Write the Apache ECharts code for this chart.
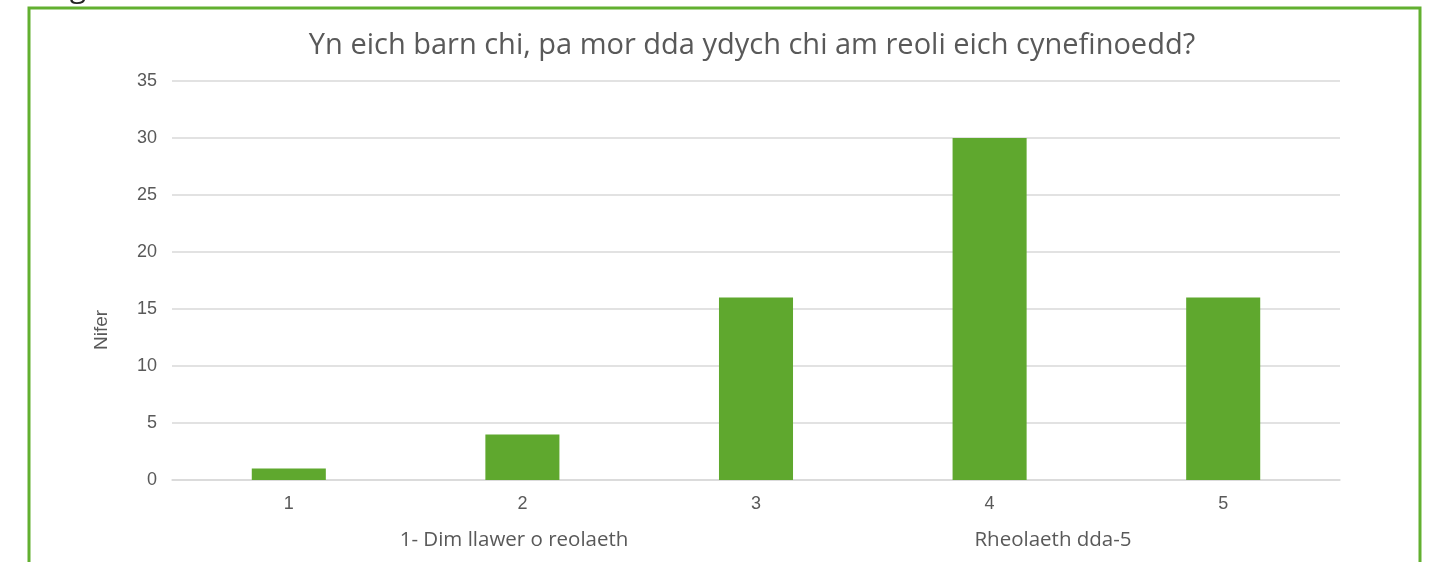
<!DOCTYPE html>
<html lang="cy">
<head>
    <meta charset="UTF-8">
    <title>Nifer</title>
    <script src="https://cdn.jsdelivr.net/npm/echarts@6/dist/echarts.min.js"></script>
    <style>
        html, body { margin: 0; padding: 0; background: #fff; }
    </style>
</head>
<body>
    <div id="main" style="width:1433px; height:562px;"></div>
    <script>
        var categories = ['1', '2', '3', '4', '5'];
        var counts = [1, 4, 16, 30, 16];
        var yTicks = { min: 0, max: 35, interval: 5 };

        var chart = echarts.init(document.getElementById('main'));
        var option = {
            animation: false,
            title: {
                text: 'Yn eich barn chi, pa mor dda ydych chi am reoli eich cynefinoedd?',
                left: 747,
                textAlign: 'center',
                top: 26,
                textStyle: {
                    fontFamily: 'Open Sans',
                    fontWeight: 'normal',
                    fontSize: 29,
                    color: '#595959'
                }
            },
            grid: { left: 172, right: 93, top: 81, bottom: 82 },
            xAxis: {
                type: 'category',
                data: categories,
                axisLine: { lineStyle: { color: '#d9d9d9', width: 1.5 } },
                axisTick: { show: false },
                axisLabel: {
                    margin: 15,
                    fontFamily: 'Liberation Sans',
                    fontSize: 18,
                    color: '#595959'
                }
            },
            yAxis: {
                type: 'value',
                min: yTicks.min,
                max: yTicks.max,
                interval: yTicks.interval,
                axisLine: { show: false },
                axisTick: { show: false },
                splitLine: { lineStyle: { color: '#d9d9d9', width: 1.5 } },
                axisLabel: {
                    margin: 15,
                    fontFamily: 'Liberation Sans',
                    fontSize: 18,
                    color: '#595959'
                }
            },
            series: [{
                type: 'bar',
                data: counts,
                barWidth: '31.7%',
                itemStyle: { color: '#5fa82e' }
            }],
            graphic: [
                {
                    type: 'rect',
                    shape: { x: 29, y: 8, width: 1391, height: 600 },
                    style: { fill: 'none', stroke: '#62b030', lineWidth: 3 },
                    silent: true
                },
                {
                    // cut-off caption letter above the frame
                    type: 'text',
                    x: 78, y: 3,
                    style: {
                        text: 'g',
                        align: 'center', verticalAlign: 'bottom',
                        fontFamily: 'Open Sans', fontSize: 30, fill: '#222'
                    }
                },
                {
                    type: 'text',
                    x: 102, y: 330,
                    rotation: Math.PI / 2,
                    style: {
                        text: 'Nifer',
                        align: 'center', verticalAlign: 'middle',
                        fontFamily: 'Liberation Sans', fontSize: 19, fill: '#595959'
                    }
                },
                {
                    type: 'text',
                    x: 514, y: 540,
                    style: {
                        text: '1- Dim llawer o reolaeth',
                        align: 'center', verticalAlign: 'middle',
                        fontFamily: 'Open Sans', fontSize: 20.5, fill: '#595959'
                    }
                },
                {
                    type: 'text',
                    x: 1053, y: 540,
                    style: {
                        text: 'Rheolaeth dda-5',
                        align: 'center', verticalAlign: 'middle',
                        fontFamily: 'Open Sans', fontSize: 20.5, fill: '#595959'
                    }
                }
            ]
        };
        chart.setOption(option);
    </script>
</body>
</html>
